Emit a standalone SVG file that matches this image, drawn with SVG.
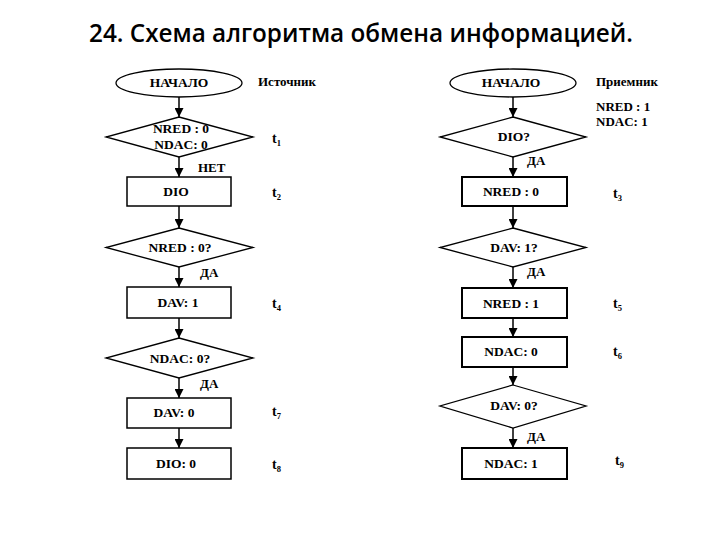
<svg xmlns="http://www.w3.org/2000/svg" width="720" height="540" viewBox="0 0 720 540">
<style>
.title{font-family:"Open Sans","Liberation Sans",sans-serif;font-weight:600;font-size:24.3px;fill:#000}
.n{font-family:"Liberation Serif",serif;font-weight:bold;font-size:13.5px;fill:#000;text-anchor:middle}
.l{font-family:"Liberation Serif",serif;font-weight:bold;font-size:13px;fill:#000}
.t{font-family:"Liberation Serif",serif;font-weight:bold;font-size:14px;fill:#000}
.s{font-size:8.5px}
.shape{fill:#fff;stroke:#000;stroke-width:1.3}
.box{fill:#fff;stroke:#000;stroke-width:1.5}
.boxr{fill:#fff;stroke:#000;stroke-width:2}
.c{stroke:#000;stroke-width:1.5;fill:none;marker-end:url(#ah)}
</style>
<defs>
<marker id="ah" viewBox="0 0 10 10" refX="10" refY="5" markerWidth="9" markerHeight="9" markerUnits="userSpaceOnUse" orient="auto">
<path d="M0,0 L10,5 L0,10 z" fill="#000"/>
</marker>
</defs>
<rect width="720" height="540" fill="#fff"/>
<text class="title" x="361" y="42" text-anchor="middle">24. Схема алгоритма обмена информацией.</text>

<g id="connectors">
<line class="c" x1="179" y1="97" x2="179" y2="117"/>
<line class="c" x1="179" y1="157" x2="179" y2="177"/>
<line class="c" x1="179" y1="206" x2="179" y2="228"/>
<line class="c" x1="179" y1="267" x2="179" y2="287"/>
<line class="c" x1="179" y1="318" x2="179" y2="338"/>
<line class="c" x1="179" y1="378" x2="179" y2="398"/>
<line class="c" x1="179" y1="428" x2="179" y2="448"/>
<line class="c" x1="513" y1="97" x2="513" y2="117"/>
<line class="c" x1="513" y1="157" x2="513" y2="177"/>
<line class="c" x1="513" y1="206" x2="513" y2="228"/>
<line class="c" x1="513" y1="267" x2="513" y2="288"/>
<line class="c" x1="513" y1="318" x2="513" y2="337"/>
<line class="c" x1="513" y1="367" x2="513" y2="385"/>
<line class="c" x1="513" y1="428" x2="513" y2="448"/>
<text class="l" x="198" y="172">НЕТ</text>
<text class="l" x="200" y="277">ДА</text>
<text class="l" x="200" y="388">ДА</text>
<text class="l" x="527" y="165">ДА</text>
<text class="l" x="527" y="276">ДА</text>
<text class="l" x="527" y="441">ДА</text>
</g>

<g id="src-start"><ellipse class="shape" cx="179" cy="83" rx="63" ry="14"/><text class="n" x="179" y="87">НАЧАЛО</text></g>
<g id="src-label"><text class="l" x="258" y="86">Источник</text></g>
<g id="src-d1"><polygon class="shape" points="179,117 253,137 179,157 106,137"/><text class="n" x="181" y="133">NRED : 0</text><text class="n" x="181" y="149">NDAC: 0</text></g>
<g id="src-r1"><rect class="box" x="127" y="177" width="104" height="29"/><text class="n" x="176" y="196">DIO</text></g>
<g id="src-d2"><polygon class="shape" points="179,228 253,247.5 179,267 106,247.5"/><text class="n" x="180" y="252">NRED : 0?</text></g>
<g id="src-r2"><rect class="box" x="127" y="287" width="104" height="31"/><text class="n" x="178" y="307">DAV: 1</text></g>
<g id="src-d3"><polygon class="shape" points="179,338 253,358 179,378 106,358"/><text class="n" x="180" y="363">NDAC: 0?</text></g>
<g id="src-r3"><rect class="box" x="127" y="398" width="104" height="30"/><text class="n" x="174" y="417">DAV: 0</text></g>
<g id="src-r4"><rect class="box" x="127" y="448" width="104" height="31"/><text class="n" x="176" y="468">DIO: 0</text></g>

<g id="src-times">
<text class="t" x="272" y="143">t<tspan class="s" dy="3">1</tspan></text>
<text class="t" x="272" y="197">t<tspan class="s" dy="3">2</tspan></text>
<text class="t" x="272" y="308">t<tspan class="s" dy="3">4</tspan></text>
<text class="t" x="272" y="416">t<tspan class="s" dy="3">7</tspan></text>
<text class="t" x="272" y="469">t<tspan class="s" dy="3">8</tspan></text>
</g>

<g id="dst-start"><ellipse class="shape" cx="513" cy="83" rx="63" ry="14"/><text class="n" x="511" y="87">НАЧАЛО</text></g>
<g id="dst-label"><text class="l" x="596" y="86">Приемник</text><text class="l" x="596" y="111">NRED : 1</text><text class="l" x="596" y="126">NDAC: 1</text></g>
<g id="dst-d1"><polygon class="shape" points="513,117 586,137 513,157 440,137"/><text class="n" x="514" y="141">DIO?</text></g>
<g id="dst-r1"><rect class="boxr" x="462" y="177" width="105" height="29"/><text class="n" x="511" y="196">NRED : 0</text></g>
<g id="dst-d2"><polygon class="shape" points="513,228 586,247.5 513,267 440,247.5"/><text class="n" x="514" y="252">DAV: 1?</text></g>
<g id="dst-r2"><rect class="boxr" x="462" y="288" width="105" height="30"/><text class="n" x="511" y="308">NRED : 1</text></g>
<g id="dst-r3"><rect class="boxr" x="462" y="337" width="105" height="30"/><text class="n" x="511" y="356">NDAC: 0</text></g>
<g id="dst-d3"><polygon class="shape" points="513,385 586,406 513,428 440,406"/><text class="n" x="514" y="410">DAV: 0?</text></g>
<g id="dst-r4"><rect class="boxr" x="462" y="448" width="105" height="31"/><text class="n" x="511" y="468">NDAC: 1</text></g>

<g id="dst-times">
<text class="t" x="613" y="198">t<tspan class="s" dy="3">3</tspan></text>
<text class="t" x="613" y="308">t<tspan class="s" dy="3">5</tspan></text>
<text class="t" x="613" y="356">t<tspan class="s" dy="3">6</tspan></text>
<text class="t" x="615" y="465">t<tspan class="s" dy="3">9</tspan></text>
</g>
</svg>
